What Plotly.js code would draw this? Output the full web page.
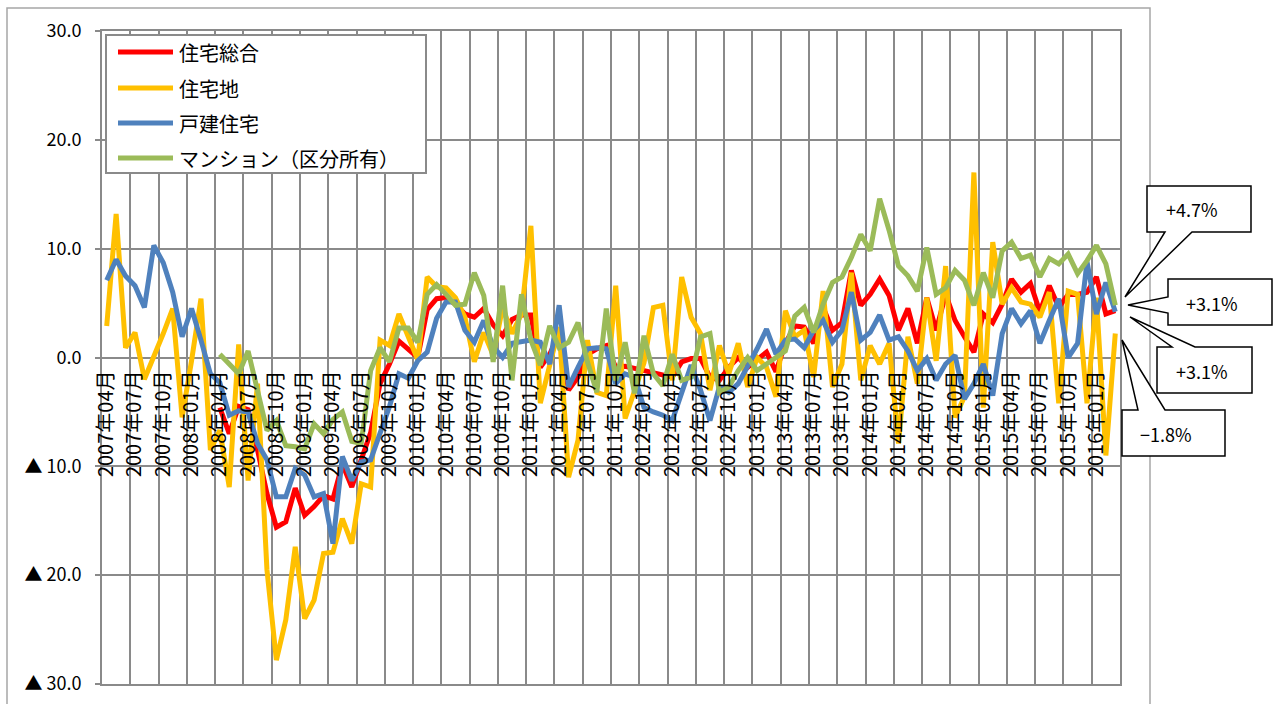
<!DOCTYPE html>
<html>
<head>
<meta charset="utf-8">
<script src="https://cdn.plot.ly/plotly-3.0.1.min.js"></script>
<style>html,body{margin:0;padding:0;background:#fff;}#chart{width:1274px;height:704px;}</style>
</head>
<body>
<div id="chart"></div>
<script>
// ---- categories (monthly, 2007年04月 .. 2016年03月) ----
const months = [];
for (let y = 2007, m = 4; months.length < 108; m++) {
  if (m > 12) { m = 1; y++; }
  months.push(y + '年' + (m < 10 ? '0' + m : m) + '月');
}
const seriesNames = ['住宅総合', '住宅地', '戸建住宅', 'マンション（区分所有）'];
const seriesColors = ['#FF0000', '#FFC000', '#4F81BD', '#9BBB59'];

// ---- series values (前年同月比 %) ----
const total = [null,null,null,null,null,null,null,null,null,null,null,null,
 -4.6,-7.0,-4.5,-4.8,-8.5,-12.5,-15.6,-15.1,-12.0,-14.5,-13.7,-12.7,
 -13.0,-9.8,-11.9,-9.4,-6.9,-2.4,-0.6,1.5,0.7,0.0,4.4,5.4,
 5.5,4.9,4.0,3.7,4.5,3.0,2.0,3.5,3.9,3.9,-0.9,0.3,
 2.2,-3.0,-1.8,0.3,0.8,1.1,-0.9,-0.8,-1.0,-1.2,-1.4,-1.5,
 -1.8,-0.4,-0.1,-0.1,-1.8,-2.1,-0.9,0.0,-0.9,-0.2,0.5,-1.3,
 1.3,2.9,2.8,1.3,4.6,2.5,3.2,8.0,4.8,5.8,7.2,5.7,
 2.5,4.5,1.3,5.5,2.5,5.8,3.4,1.9,0.5,4.0,3.2,4.9,
 7.2,6.0,6.8,4.2,6.6,4.6,5.8,5.8,6.0,7.4,4.0,4.3];
const land = [2.9,13.2,0.9,2.3,-2.0,0.0,2.2,4.5,-5.5,-0.3,5.4,-8.5,
 -6.7,-11.9,1.2,-11.3,-2.4,-19.5,-27.8,-24.1,-17.4,-24.0,-22.3,-18.0,
 -17.9,-14.8,-17.1,-11.6,-11.9,1.6,1.1,4.0,1.8,-0.2,7.4,6.5,
 6.4,5.5,3.7,-0.4,2.3,0.2,4.6,2.2,4.0,12.1,-4.2,-0.7,
 2.8,-11.0,-7.6,1.6,-3.2,-3.5,6.6,-5.6,-3.0,-0.5,4.6,4.8,
 -2.1,7.4,3.7,2.2,-3.0,1.1,-1.5,1.3,-2.7,0.0,-0.9,-3.6,
 4.3,1.9,2.5,-1.8,6.1,-2.7,-0.6,7.8,-2.1,1.1,-0.6,1.3,
 -7.9,1.9,-2.4,5.5,-0.3,8.4,-5.5,-3.6,17.0,-4.6,10.6,4.9,
 6.4,5.1,4.9,3.7,6.0,-4.2,6.1,5.8,-4.2,5.5,-9.0,2.2];
const house = [7.1,9.0,7.5,6.6,4.6,10.3,8.7,6.0,1.9,4.5,1.6,-1.5,
 -2.3,-5.3,-4.9,-5.0,-7.9,-9.4,-12.8,-12.8,-10.2,-10.8,-12.8,-12.5,
 -17.1,-9.1,-11.3,-9.6,-9.4,-7.0,-4.5,-1.5,-1.9,-0.3,0.5,3.6,
 5.1,5.1,2.5,1.4,3.4,1.0,0.0,1.3,1.4,1.6,1.4,-0.6,
 4.8,-2.7,-0.9,0.8,0.9,0.8,-2.4,-1.5,-1.8,-4.6,-5.0,-5.3,
 -5.8,-3.3,-0.7,-3.0,-5.8,-2.7,-3.2,-2.4,-0.9,0.8,2.6,0.3,
 1.6,1.7,0.9,2.5,3.4,1.4,2.5,6.0,1.6,2.3,3.9,1.6,
 1.9,0.6,-1.2,-0.1,-2.1,-0.6,0.2,-3.8,-2.4,-0.6,-3.5,2.2,
 4.5,3.1,4.3,1.3,3.4,5.4,0.0,1.3,8.8,4.0,6.9,4.2];
const condo = [null,null,null,null,null,null,null,null,null,null,null,null,
 0.3,-0.6,-1.5,0.6,-3.0,-6.7,-5.8,-8.1,-8.2,-8.4,-6.1,-7.0,
 -5.7,-5.0,-7.7,-7.9,-1.2,0.9,-0.4,2.7,2.7,1.4,5.8,6.7,
 5.8,4.8,4.9,7.8,5.7,-0.4,6.6,-2.1,5.8,1.6,-0.7,2.9,
 0.9,1.4,3.2,-0.4,-3.2,4.5,-2.1,1.4,-3.3,2.0,-1.5,-2.6,
 0.3,-2.1,-1.8,1.9,2.2,-3.2,-2.7,-1.2,0.0,-1.2,-0.6,0.0,
 0.6,3.8,4.6,2.3,4.9,6.9,7.4,9.2,11.3,9.8,14.6,11.7,
 8.4,7.5,6.1,10.1,5.8,6.4,8.0,7.1,4.8,7.8,5.5,9.8,
 10.6,9.1,9.4,7.4,9.1,8.6,9.5,7.7,8.9,10.3,8.6,4.8];

// ---- axis labels ----
const yTickVals = [30, 20, 10, 0, -10, -20, -30];
const yTickText = ['30.0', '20.0', '10.0', '0.0', '▲ 10.0', '▲ 20.0', '▲ 30.0'];
const calloutTexts = ['+4.7%', '+3.1%', '+3.1%', '−1.8%'];

// ---- layout helpers ----
const L = 102, R = 1120, T = 31, B = 684;
const px = x => (x - L) / (R - L);
const py = y => (B - y) / (B - T);
const FONT = '"Noto Sans CJK JP", "Noto Sans", sans-serif';
const GRID = '#8a8a8a';

const idx = months.map((_, i) => i);
const allSeries = [total, land, house, condo];
const traces = allSeries.map((vals, k) => ({
  type: 'scatter', mode: 'lines', x: idx, y: vals, name: seriesNames[k],
  line: {color: seriesColors[k], width: 5}, showlegend: false,
  connectgaps: false, hoverinfo: 'skip', xaxis: 'x', yaxis: 'y'
}));

const boundaryVals = [];
for (let v = -0.5; v <= months.length - 0.5 + 1e-9; v += 3) boundaryVals.push(v);
const labelVals = [], labelText = [];
for (let i = 0; i < months.length; i += 3) { labelVals.push(i); labelText.push(months[i]); }

// invisible carrier trace so the label axis (x2) is drawn
traces.push({type: 'scatter', mode: 'lines', x: labelVals, y: labelVals.map(() => null),
  xaxis: 'x2', yaxis: 'y', showlegend: false, hoverinfo: 'skip', line: {width: 0}});

const shapes = [];
const annotations = [];
// outer chart frame
shapes.push({type: 'rect', xref: 'paper', yref: 'paper', x0: px(7), x1: px(1150), y0: py(8), y1: py(730),
  line: {color: '#a6a6a6', width: 1.5}, fillcolor: 'rgba(0,0,0,0)', layer: 'above'});
// legend box
shapes.push({type: 'rect', xref: 'paper', yref: 'paper', x0: px(106), x1: px(426), y0: py(35), y1: py(173),
  line: {color: GRID, width: 2}, fillcolor: '#ffffff', layer: 'above'});
const rowY = [52, 88, 123, 158];
seriesNames.forEach((n, k) => {
  shapes.push({type: 'line', xref: 'paper', yref: 'paper', x0: px(118), x1: px(173), y0: py(rowY[k]), y1: py(rowY[k]),
    line: {color: seriesColors[k], width: 5}, layer: 'above'});
  annotations.push({xref: 'paper', yref: 'paper', x: px(177), y: py(rowY[k]), xanchor: 'left', yanchor: 'middle',
    text: n, showarrow: false, font: {family: FONT, size: 20, color: '#000'}});
});
// callouts (box + wedge pointer), pixel outlines
const calloutPaths = [
  [[1147,186],[1251,186],[1251,232],[1192,232],[1125,297],[1165,232],[1147,232]],
  [[1168,279],[1272,279],[1272,325],[1168,325],[1168,313],[1128,305],[1168,297]],
  [[1157,347],[1172,347],[1130,317],[1195,347],[1252,347],[1252,393],[1157,393]],
  [[1122,410],[1138,410],[1122,340],[1165,410],[1225,410],[1225,456],[1122,456]]
];
const calloutCenters = [[1192,209],[1212,303],[1202,371],[1166,434]];
calloutPaths.forEach((pts, k) => {
  const d = 'M ' + pts.map(p => px(p[0]).toFixed(5) + ',' + py(p[1]).toFixed(5)).join(' L ') + ' Z';
  shapes.push({type: 'path', xref: 'paper', yref: 'paper', path: d,
    line: {color: '#000', width: 1.5}, fillcolor: '#ffffff', layer: 'above'});
  annotations.push({xref: 'paper', yref: 'paper', x: px(calloutCenters[k][0]), y: py(calloutCenters[k][1]),
    xanchor: 'center', yanchor: 'middle', text: calloutTexts[k], showarrow: false,
    font: {family: FONT, size: 18, color: '#000'}});
});

const layout = {
  width: 1274, height: 704,
  margin: {l: L, r: 1274 - R, t: T, b: 704 - B, pad: 0},
  paper_bgcolor: '#ffffff', plot_bgcolor: '#ffffff',
  showlegend: false,
  xaxis: {range: [-0.5, months.length - 0.5], tickvals: boundaryVals, showticklabels: false,
    showgrid: true, gridcolor: GRID, gridwidth: 2, zeroline: false, ticks: '',
    showline: true, mirror: true, linecolor: GRID, linewidth: 2, fixedrange: true},
  xaxis2: {overlaying: 'x', anchor: 'free', position: 0.5, range: [-0.5, months.length - 0.5],
    tickvals: labelVals, ticktext: labelText, tickangle: -90, showgrid: false, zeroline: false,
    showline: false, ticks: '', ticklabelstandoff: 8, side: 'bottom',
    tickfont: {family: FONT, size: 20, color: '#000'}, fixedrange: true},
  yaxis: {range: [-30, 30], tickvals: yTickVals, ticktext: yTickText, showgrid: true,
    gridcolor: GRID, gridwidth: 2, zeroline: false, ticks: 'outside', ticklen: 5,
    tickcolor: GRID, tickwidth: 2, showline: true, mirror: true, linecolor: GRID, linewidth: 2,
    ticklabelstandoff: 10, tickfont: {family: FONT, size: 18, color: '#000'}, fixedrange: true},
  shapes: shapes,
  annotations: annotations
};

Plotly.newPlot('chart', traces, layout, {displayModeBar: false, staticPlot: true});
</script>
</body>
</html>
